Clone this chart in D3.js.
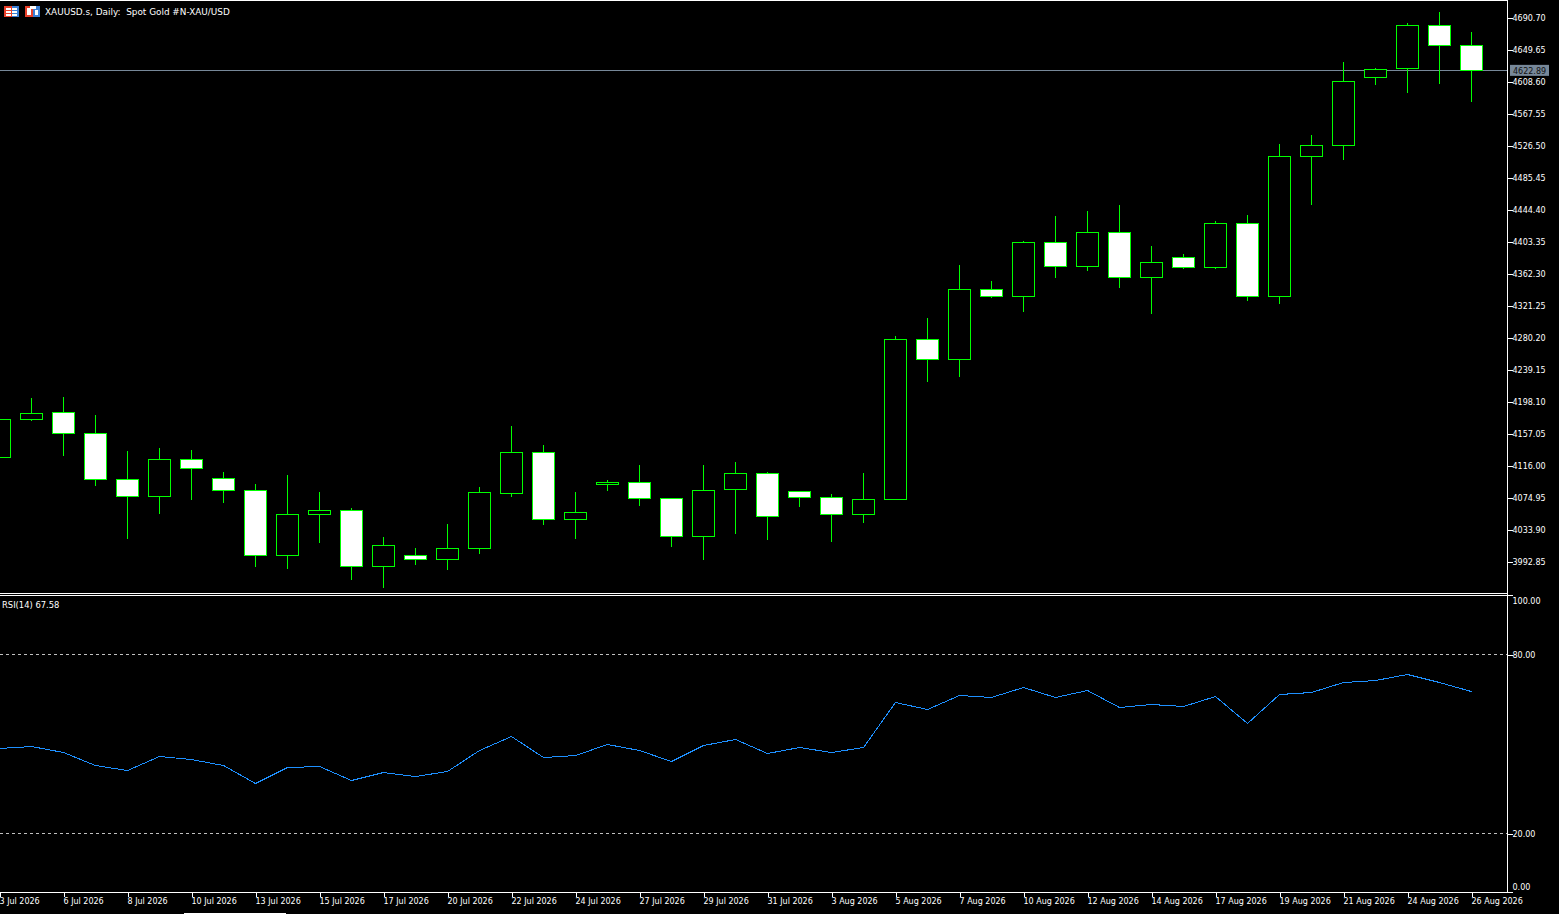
<!DOCTYPE html>
<html>
<head>
<meta charset="utf-8">
<title>XAUUSD.s, Daily</title>
<script src="https://cdn.jsdelivr.net/npm/d3@7"></script>
<style>
	html, body { margin: 0; padding: 0; background: #000; overflow: hidden; }
	svg { display: block; }
	text { font-family: "DejaVu Sans", sans-serif; font-size: 8px; fill: #fff; }
</style>
</head>
<body>
<div class="thegraph"></div>
<script>
var dates = ["3 Jul 2026", "5 Jul 2026", "6 Jul 2026", "7 Jul 2026", "8 Jul 2026", "9 Jul 2026", "10 Jul 2026", "12 Jul 2026",
	"13 Jul 2026", "14 Jul 2026", "15 Jul 2026", "16 Jul 2026", "17 Jul 2026", "19 Jul 2026", "20 Jul 2026", "21 Jul 2026",
	"22 Jul 2026", "23 Jul 2026", "24 Jul 2026", "26 Jul 2026", "27 Jul 2026", "28 Jul 2026", "29 Jul 2026", "30 Jul 2026",
	"31 Jul 2026", "2 Aug 2026", "3 Aug 2026", "4 Aug 2026", "5 Aug 2026", "6 Aug 2026", "7 Aug 2026", "9 Aug 2026",
	"10 Aug 2026", "11 Aug 2026", "12 Aug 2026", "13 Aug 2026", "14 Aug 2026", "16 Aug 2026", "17 Aug 2026", "18 Aug 2026",
	"19 Aug 2026", "20 Aug 2026", "21 Aug 2026", "23 Aug 2026", "24 Aug 2026", "25 Aug 2026", "26 Aug 2026"];

var opens = [4126.27, 4175.02, 4184.00, 4157.06, 4098.05, 4076.24, 4123.70, 4099.33,
	4083.94, 4000.56, 4053.15, 4058.28, 3986.45, 4000.56, 3995.42, 4009.54,
	4080.09, 4132.68, 4046.74, 4091.63, 4094.20, 4073.68, 4024.93, 4085.22,
	4105.75, 4082.66, 4074.96, 4053.15, 4072.39, 4277.64, 4251.98, 4341.78,
	4332.80, 4402.07, 4371.29, 4414.90, 4357.17, 4382.83, 4370.00, 4426.45,
	4332.80, 4512.39, 4526.50, 4613.73, 4625.28, 4680.44, 4654.78];
var highs = [4180.15, 4201.96, 4203.24, 4180.15, 4133.97, 4137.82, 4135.25, 4107.03,
	4091.63, 4103.18, 4081.37, 4060.85, 4023.65, 4009.54, 4040.32, 4087.79,
	4166.04, 4141.66, 4081.37, 4096.77, 4116.01, 4073.68, 4116.01, 4119.86,
	4107.03, 4082.66, 4078.81, 4105.75, 4281.49, 4304.58, 4372.57, 4352.04,
	4403.36, 4435.43, 4441.84, 4449.54, 4396.94, 4386.68, 4429.01, 4436.71,
	4527.79, 4540.61, 4632.98, 4625.28, 4683.01, 4697.12, 4671.46];
var lows = [4121.14, 4173.73, 4128.84, 4090.35, 4022.36, 4054.43, 4072.39, 4068.54,
	3986.45, 3983.88, 4017.23, 3969.77, 3959.51, 3989.01, 3982.60, 4003.12,
	4076.24, 4040.32, 4022.36, 4083.94, 4064.70, 4012.10, 3995.42, 4028.78,
	4021.08, 4063.41, 4018.52, 4042.89, 4072.39, 4223.76, 4230.18, 4331.51,
	4313.56, 4357.17, 4366.15, 4344.35, 4310.99, 4368.72, 4368.72, 4327.67,
	4323.82, 4450.82, 4508.54, 4604.75, 4594.49, 4606.04, 4582.95];
var closes = [4175.02, 4182.71, 4157.06, 4098.05, 4076.24, 4123.70, 4112.16, 4083.94,
	4000.56, 4053.15, 4058.28, 3986.45, 4013.38, 3995.42, 4009.54, 4081.37,
	4132.68, 4046.74, 4055.72, 4094.20, 4073.68, 4024.93, 4083.94, 4105.75,
	4050.59, 4074.96, 4053.15, 4072.39, 4277.64, 4251.98, 4341.78, 4332.80,
	4402.07, 4371.29, 4414.90, 4357.17, 4376.42, 4370.00, 4426.45, 4332.80,
	4512.39, 4526.50, 4608.60, 4624.00, 4680.44, 4654.78, 4622.89];
var rsi = [48.49, 49.16, 47.15, 42.79, 41.11, 45.81, 44.80, 42.79,
	36.76, 42.12, 42.45, 37.76, 40.44, 39.10, 40.78, 47.82,
	52.51, 45.47, 46.14, 49.83, 47.82, 44.13, 49.49, 51.51,
	46.81, 48.82, 47.15, 48.82, 63.91, 61.56, 66.26, 65.59,
	68.94, 65.59, 67.93, 62.23, 63.24, 62.57, 65.92, 56.87,
	66.59, 67.26, 70.61, 71.28, 73.30, 70.61, 67.58];

var priceTicks = [4690.70, 4649.65, 4608.60, 4567.55, 4526.50, 4485.45, 4444.40, 4403.35, 4362.30,
	4321.25, 4280.20, 4239.15, 4198.10, 4157.05, 4116.00, 4074.95, 4033.90, 3992.85];
var rsiTicks = [100, 80, 20, 0];
var rsiLevels = [80, 20];
var lastPrice = 4622.89;
var chartTitle = "XAUUSD.s, Daily:\u00a0\u00a0Spot Gold #N-XAU/USD";
var rsiTitle = "RSI(14) 67.58";

var w = 1559;
var h = 914;
var right = 1507;
var bottom = 892;
var green = "#00ff00";

var svg = d3.select(".thegraph").append("svg")
	.attr("width", w)
	.attr("height", h)
	;

var x = d3.scalePoint()
	.domain(dates)
	.range([-0.5, 1471.5])
	;
// two known ticks of the price axis fix the scale
var y = d3.scaleLinear()
	.domain([3992.85, 4690.70])
	.range([561.5, 17.5])
	;
var yr = d3.scaleLinear()
	.domain([20, 80])
	.range([833.5, 654.5])
	;

var candles = dates.map(function(d, i) {
	return { date: d, open: opens[i], high: highs[i], low: lows[i], close: closes[i] };
});

// frame lines
var frame = svg.append("g").attr("shape-rendering", "crispEdges").attr("stroke", "#fff");
frame.append("line").attr("x1", 0).attr("x2", right + 1).attr("y1", 0.5).attr("y2", 0.5);
frame.append("line").attr("x1", 0).attr("x2", right + 1).attr("y1", 593.5).attr("y2", 593.5);
frame.append("line").attr("x1", 0).attr("x2", right + 1).attr("y1", 595.5).attr("y2", 595.5);
frame.append("line").attr("x1", 184).attr("x2", 286).attr("y1", 913.5).attr("y2", 913.5);

// rsi levels
svg.selectAll(".level")
	.data(rsiLevels)
	.enter()
	.append("line")
	.attr("class", "level")
	.attr("x1", 0)
	.attr("x2", right)
	.attr("y1", function(d) { return yr(d); })
	.attr("y2", function(d) { return yr(d); })
	.attr("stroke", "#c0c0c0")
	.attr("stroke-dasharray", "3,3")
	.attr("shape-rendering", "crispEdges")
	;

// current price line, under the candles
svg.append("line")
	.attr("x1", 0)
	.attr("x2", right)
	.attr("y1", y(lastPrice))
	.attr("y2", y(lastPrice))
	.attr("stroke", "#778899")
	.attr("shape-rendering", "crispEdges")
	;

var bars = svg.append("g").attr("shape-rendering", "crispEdges");
bars.selectAll(".wick")
	.data(candles)
	.enter()
	.append("line")
	.attr("class", "wick")
	.attr("x1", function(d) { return x(d.date); })
	.attr("x2", function(d) { return x(d.date); })
	.attr("y1", function(d) { return y(d.high); })
	.attr("y2", function(d) { return y(d.low) + 0.5; })
	.attr("stroke", green)
	;
bars.selectAll(".body")
	.data(candles)
	.enter()
	.append("rect")
	.attr("class", "body")
	.attr("x", function(d) { return x(d.date) - 11; })
	.attr("width", 22)
	.attr("y", function(d) { return y(Math.max(d.open, d.close)); })
	.attr("height", function(d) { return Math.abs(y(d.open) - y(d.close)); })
	.attr("fill", function(d) { return d.close >= d.open ? "#000" : "#fff"; })
	.attr("stroke", green)
	;

// rsi line
var rsiLine = d3.line()
	.x(function(d, i) { return x(dates[i]); })
	.y(function(d) { return yr(d); })
	;
svg.append("path")
	.datum(rsi)
	.attr("d", rsiLine)
	.attr("fill", "none")
	.attr("stroke", "#1e90ff")
	.attr("stroke-width", 1)
	.attr("shape-rendering", "crispEdges")
	;

// price axis
var axisP = svg.append("g")
	.attr("transform", "translate(" + (right + 0.5) + ",0)")
	.call(d3.axisRight(y).tickValues(priceTicks).tickSize(5).tickPadding(0).tickFormat(d3.format(".2f")))
	;
// rsi axis
var axisR = svg.append("g")
	.attr("transform", "translate(" + (right + 0.5) + ",0)")
	.call(d3.axisRight(yr).tickValues(rsiTicks).tickSize(5).tickPadding(0).tickFormat(d3.format(".2f")))
	;
axisR.selectAll(".tick")
	.filter(function(d) { return d == 100; })
	.select("text").attr("dy", "8.5");
axisR.selectAll(".tick")
	.filter(function(d) { return d == 0; })
	.select("text").attr("dy", "-2.5");
axisR.selectAll(".tick")
	.filter(function(d) { return d == 0; })
	.attr("transform", "translate(0,892.5)");
axisR.selectAll("text").attr("x", 5);
axisP.selectAll("text").attr("x", 5);

// time axis, a label on every second candle
var axisT = svg.append("g")
	.attr("transform", "translate(0," + (bottom + 0.5) + ")")
	.call(d3.axisBottom(x).tickValues(dates.filter(function(d, i) { return i % 2 == 0; })).tickSize(4).tickPadding(0))
	;
axisT.selectAll("text")
	.attr("text-anchor", "start")
	.attr("x", -0.5)
	.attr("y", 6)
	;

[axisP, axisR, axisT].forEach(function(a) {
	a.attr("font-family", null).attr("font-size", null).attr("shape-rendering", "crispEdges");
	a.selectAll(".domain").attr("stroke", "#fff");
	a.selectAll("line").attr("stroke", "#fff");
});
axisP.select(".domain").attr("d", "M0,0V" + bottom);
axisR.select(".domain").remove();
axisT.select(".domain").attr("d", "M0,0H" + (right + 1));

// bid label on the axis
svg.append("rect")
	.attr("x", 1510)
	.attr("y", y(lastPrice) - 5.5)
	.attr("width", 39)
	.attr("height", 11)
	.attr("fill", "#778899")
	;
svg.append("text")
	.attr("x", 1513)
	.attr("y", y(lastPrice) + 1)
	.attr("dy", "0.35em")
	.style("fill", "#111")
	.text(d3.format(".2f")(lastPrice))
	;

// titles
svg.append("text").attr("x", 45).attr("y", 15).style("font-size", "8.9px").text(chartTitle);
svg.append("text").attr("x", 2).attr("y", 608).style("font-size", "8.4px").text(rsiTitle);

// small toolbar icons by the title
var icons = svg.append("g").attr("shape-rendering", "crispEdges");
icons.append("rect").attr("x", 4).attr("y", 6).attr("width", 8).attr("height", 11).attr("fill", "#e8402a");
icons.append("rect").attr("x", 12).attr("y", 6).attr("width", 7).attr("height", 11).attr("fill", "#3a7fd5");
[8, 11, 14].forEach(function(t) {
	icons.append("rect").attr("x", 6).attr("y", t).attr("width", 5).attr("height", 2).attr("fill", "#fff");
	icons.append("rect").attr("x", 12).attr("y", t).attr("width", 5).attr("height", 2).attr("fill", "#fff");
});
icons.append("rect").attr("x", 25).attr("y", 6).attr("width", 8).attr("height", 11).attr("fill", "#e8402a");
icons.append("rect").attr("x", 33).attr("y", 6).attr("width", 7).attr("height", 11).attr("fill", "#3a7fd5");
icons.append("rect").attr("x", 27).attr("y", 8).attr("width", 4).attr("height", 7).attr("fill", "#fff");
icons.append("rect").attr("x", 35).attr("y", 10).attr("width", 3).attr("height", 5).attr("fill", "#fff");
icons.append("rect").attr("x", 30).attr("y", 6).attr("width", 6).attr("height", 3).attr("fill", "#fff");
</script>
</body>
</html>
